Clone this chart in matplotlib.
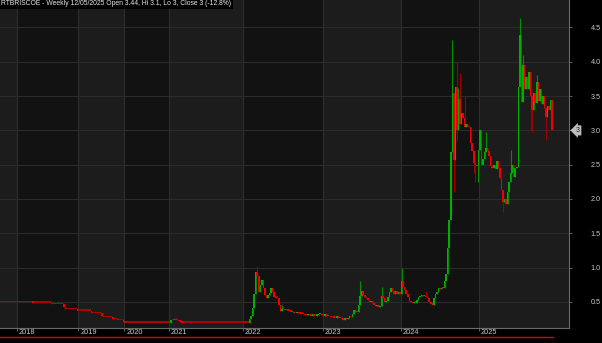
import numpy as np
import matplotlib
matplotlib.use('Agg')
import matplotlib.pyplot as plt
from matplotlib.transforms import blended_transform_factory

plt.rcParams['font.family'] = ['Liberation Sans', 'DejaVu Sans']

# Weekly closes, one list per calendar year (bar-indexed chart)
close_2017 = [0.50, 0.50, 0.50, 0.50, 0.50, 0.50, 0.50, 0.50, 0.50, 0.50, 0.50]
close_2018 = [0.50, 0.50, 0.50, 0.50, 0.50, 0.50, 0.50, 0.50, 0.50, 0.50,
              0.49, 0.49, 0.49, 0.49, 0.49, 0.49, 0.49, 0.49, 0.49, 0.49, 0.49, 0.49,
              0.47, 0.47, 0.47, 0.47, 0.47, 0.47, 0.47, 0.47,
              0.42, 0.39, 0.39, 0.39, 0.39, 0.39, 0.39, 0.39, 0.39, 0.37]
close_2019 = [0.37, 0.37, 0.37, 0.37, 0.37, 0.37, 0.37, 0.37,
              0.34, 0.34, 0.34, 0.34, 0.34, 0.34, 0.34,
              0.30, 0.28, 0.28, 0.28, 0.28, 0.28, 0.28,
              0.25, 0.25, 0.25, 0.23, 0.23, 0.23, 0.23, 0.21]
close_2020 = [0.20, 0.20, 0.20, 0.20, 0.20, 0.20, 0.20, 0.20, 0.20, 0.20,
              0.20, 0.20, 0.20, 0.20, 0.20, 0.20, 0.20, 0.20, 0.20, 0.20,
              0.20, 0.20, 0.20, 0.20, 0.20, 0.20, 0.20, 0.20, 0.20]
close_2021 = [0.20, 0.23, 0.23, 0.24, 0.24, 0.23, 0.22, 0.21,
              0.20, 0.20, 0.20, 0.20, 0.20, 0.20, 0.20, 0.20, 0.20, 0.20,
              0.20, 0.20, 0.20, 0.20, 0.20, 0.20, 0.20, 0.20, 0.20, 0.20,
              0.20, 0.20, 0.20, 0.20, 0.20, 0.20, 0.20, 0.20, 0.20, 0.20,
              0.20, 0.20, 0.20, 0.20, 0.20, 0.20, 0.20, 0.20, 0.20, 0.20]
close_2022 = [0.20, 0.20, 0.20, 0.20, 0.25, 0.29, 0.41, 0.62, 0.94, 0.88,
              0.65, 0.75, 0.82, 0.70, 0.60, 0.56, 0.60, 0.63, 0.70, 0.65,
              0.57, 0.56, 0.56, 0.46, 0.37, 0.40, 0.39, 0.38, 0.38, 0.37,
              0.37, 0.36, 0.35, 0.34, 0.34, 0.35, 0.34, 0.33, 0.33, 0.32,
              0.31, 0.31, 0.32, 0.31, 0.30, 0.31, 0.30, 0.30, 0.31, 0.32,
              0.33, 0.31]
close_2023 = [0.30, 0.31, 0.30, 0.29, 0.29, 0.28, 0.28, 0.27, 0.27, 0.28,
              0.27, 0.26, 0.25, 0.24, 0.26, 0.25, 0.27, 0.28, 0.28, 0.33,
              0.38, 0.36, 0.35, 0.45, 0.58, 0.66, 0.60, 0.57, 0.55, 0.53,
              0.50, 0.52, 0.48, 0.46, 0.44, 0.45, 0.42, 0.44, 0.58, 0.55,
              0.50, 0.52, 0.57, 0.64, 0.70, 0.66, 0.62, 0.66, 0.62, 0.64,
              0.62]
close_2024 = [0.80, 0.72, 0.67, 0.62, 0.57, 0.52, 0.50, 0.48, 0.50, 0.49,
              0.53, 0.57, 0.58, 0.60, 0.58, 0.59, 0.57, 0.55, 0.50, 0.47,
              0.46, 0.55, 0.62, 0.64, 0.70, 0.69, 0.71, 0.70, 0.80, 0.90,
              1.28, 1.69, 2.69, 3.55, 2.57, 3.63, 3.00, 3.45, 3.10, 3.25,
              3.18, 3.05, 3.10, 3.05, 3.05, 2.82, 2.70, 2.52, 2.50, 2.48,
              2.72]
close_2025 = [3.00, 2.50, 2.58, 2.68, 2.75, 2.70, 2.62, 2.48, 2.45, 2.50,
              2.43, 2.55, 2.45, 2.30, 2.13, 1.96, 2.00, 1.93, 2.10, 2.25,
              2.38, 2.50, 2.32, 2.45, 2.47, 3.63, 4.39, 3.42, 3.95, 3.60,
              3.78, 3.60, 3.85, 3.50, 3.30, 3.55, 3.40, 3.70, 3.43, 3.60,
              3.38, 3.50, 3.33, 3.20, 3.35, 3.30, 3.44, 3.00]

year_names = ['2018', '2019', '2020', '2021', '2022', '2023', '2024', '2025']
yearly_closes = [close_2017, close_2018, close_2019, close_2020, close_2021,
                 close_2022, close_2023, close_2024, close_2025]

# Extra wick extremes that go beyond the candle bodies (bar index -> price)
wick_high = {167: 1.02, 183: 0.46, 234: 0.81, 248: 0.72, 261: 1.00, 277: 0.66,
             294: 4.31, 297: 4.00, 298: 3.62, 299: 3.84, 302: 3.50, 316: 2.97,
             332: 2.72, 338: 4.64, 340: 4.10, 341: 3.90, 349: 3.80}
wick_low = {295: 2.10, 297: 2.85, 306: 2.72, 308: 2.38, 309: 2.25, 311: 2.25,
            327: 1.81, 345: 3.00, 346: 2.98, 355: 2.86}

title = 'RTBRISCOE - Weekly 12/05/2025 Open 3.44, Hi 3.1, Lo 3, Close 3 (-12.8%)'

# Build OHLC arrays
closes = np.array([v for year in yearly_closes for v in year])
opens = np.concatenate([[closes[0]], closes[:-1]])
highs = np.maximum(opens, closes)
lows = np.minimum(opens, closes)
for i, v in wick_high.items():
    highs[i] = max(highs[i], v)
for i, v in wick_low.items():
    lows[i] = min(lows[i], v)
x = np.arange(len(closes))

year_starts = np.cumsum([0] + [len(y) for y in yearly_closes])

# Figure and axes
fig = plt.figure(figsize=(6.02, 3.43), dpi=100, facecolor='black')
ax = fig.add_axes([0, 1 - 328 / 343, 569 / 602, 328 / 343])
ax.set_facecolor('#121212')

# Alternating year bands and year separators
for k in range(len(yearly_closes)):
    left = year_starts[k] - 0.5
    right = year_starts[k + 1] - 0.5 if k + 1 < len(yearly_closes) else 400
    shade = '#1c1c1c' if k % 2 == 0 else '#121212'
    ax.axvspan(left, right, color=shade, zorder=0, lw=0)
    if k > 0:
        ax.axvline(left, color='#2e2e2e', lw=0.8, zorder=1)

# Horizontal grid
yticks = [0.5, 1.0, 1.5, 2.0, 2.5, 3.0, 3.5, 4.0, 4.5]
for yv in yticks:
    ax.axhline(yv, color='#2b2b2b', lw=0.8, zorder=1)

# Candles
up = closes > opens
down = closes < opens
body_colors = np.where(up, '#00b000', np.where(down, '#f00000', '#b00000'))
wick_colors = np.where(up, '#009000', '#a00000')
ax.vlines(x, lows, highs, colors=wick_colors, lw=0.8, zorder=2)
ax.bar(x, np.maximum(np.abs(closes - opens), 0.02), bottom=np.minimum(opens, closes),
       width=1.0, color=body_colors, linewidth=0, zorder=3)

ax.set_xlim(-0.5, 370)
ax.set_ylim(0.12, 4.90)

# Right price axis
ax.yaxis.tick_right()
ax.set_yticks(yticks)
ax.set_yticklabels([f'{v:.1f}' for v in yticks])
ax.tick_params(axis='y', colors='#707070', labelcolor='#c8c8c8', labelsize=5.2,
               length=2.2, width=0.6, pad=13.5)

# Year ticks along the bottom
boundaries = year_starts[1:len(yearly_closes)] - 0.5
ax.set_xticks(boundaries)
ax.set_xticklabels([])
ax.tick_params(axis='x', colors='#707070', length=2.5, width=0.6)
tx = blended_transform_factory(ax.transData, ax.transAxes)
for b, name in zip(boundaries, year_names):
    ax.text(b + 1.2, -0.004, name, transform=tx, ha='left', va='top',
            fontsize=5.3, color='#c8c8c8')

for side in ['left', 'top']:
    ax.spines[side].set_visible(False)
for side in ['right', 'bottom']:
    ax.spines[side].set_color('#6a6a6a')
    ax.spines[side].set_linewidth(0.8)

# Red range line under the axis
ax.plot([-0.5, len(closes) - 0.5], [-0.0265, -0.0265], transform=tx,
        color='#e00000', lw=1.0, clip_on=False)

# Title box
ax.text(0.002, 0.999, title, transform=ax.transAxes, ha='left', va='top',
        fontsize=4.9, color='#e8e8e8', zorder=10,
        bbox=dict(facecolor='black', edgecolor='none', pad=1.2))

# Last price tag
ty = blended_transform_factory(ax.transAxes, ax.transData)
ax.text(1.012, closes[-1], f'{closes[-1]:g}', transform=ty, ha='left', va='center',
        fontsize=5.0, color='#202020', clip_on=False,
        bbox=dict(boxstyle='larrow,pad=0.22', facecolor='#bdbdbd', edgecolor='none'))

plt.savefig('out.png', dpi=100, facecolor='black')
plt.close()
